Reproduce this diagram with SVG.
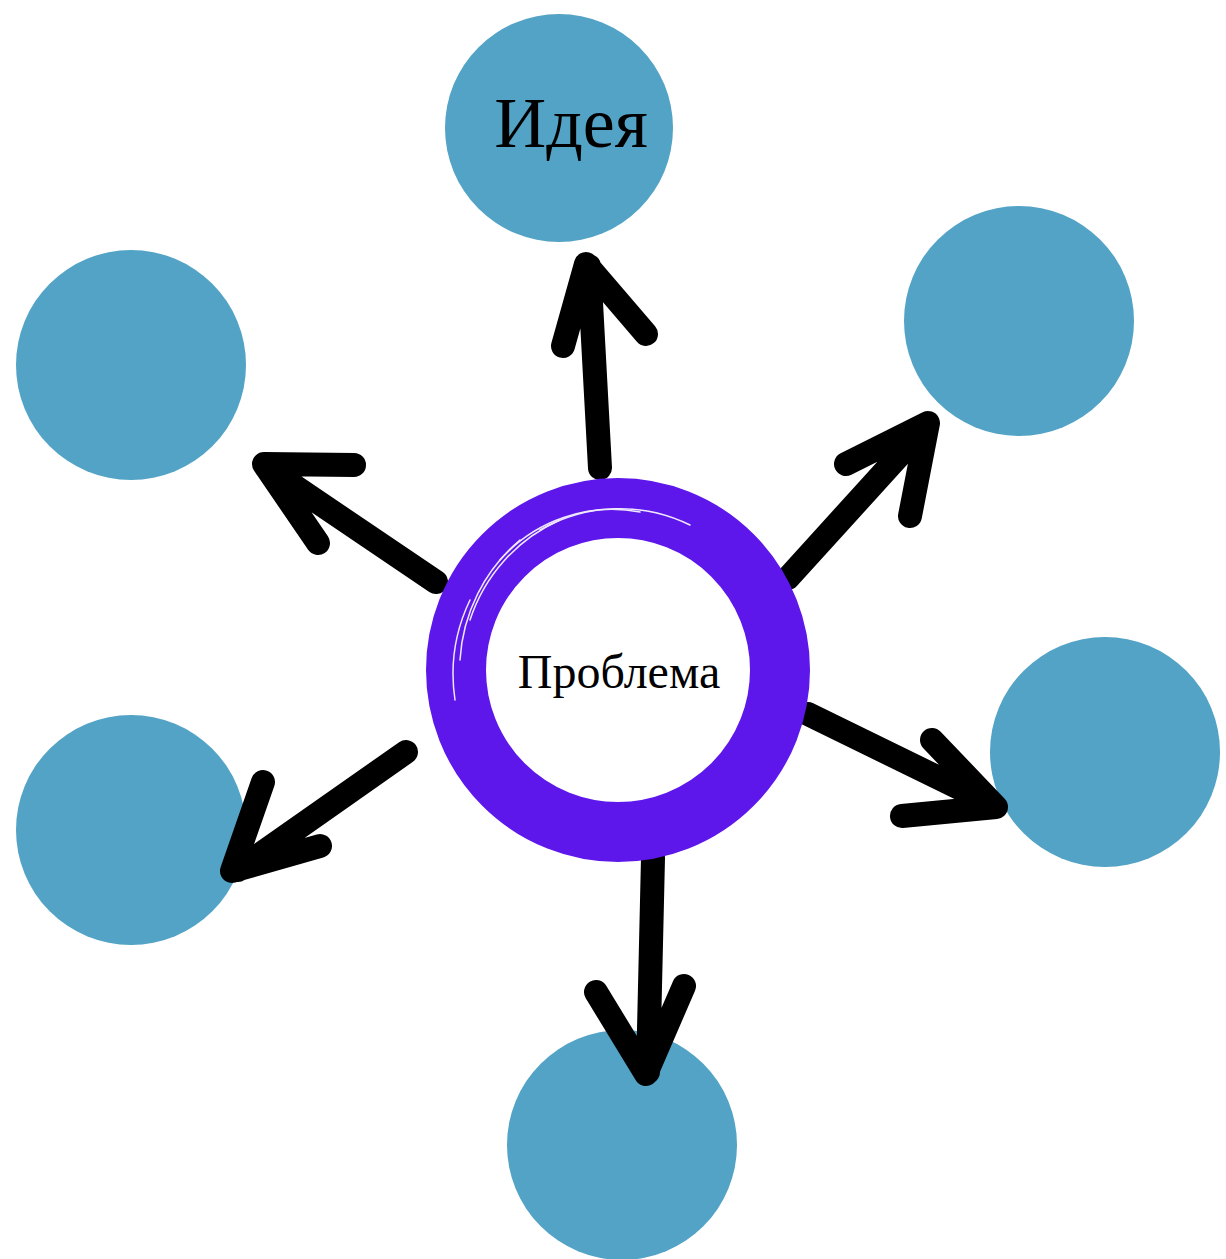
<svg xmlns="http://www.w3.org/2000/svg" width="1226" height="1259" viewBox="0 0 1226 1259">
<style>
.node{fill:#52a3c6}
.arrow{fill:none;stroke:#000;stroke-width:24;stroke-linecap:round;stroke-linejoin:round}
.lbl{font-family:"Liberation Serif","Times New Roman",serif;fill:#000;text-anchor:middle}
</style>
<rect width="1226" height="1259" fill="#fff"/>
<g id="node-idea"><circle class="node" cx="559" cy="128" r="114"/><text class="lbl" x="571" y="147" font-size="72">Идея</text></g>
<g id="node-topright"><circle class="node" cx="1019" cy="321" r="115"/></g>
<g id="node-left"><circle class="node" cx="131" cy="365" r="115"/></g>
<g id="node-right"><circle class="node" cx="1105" cy="752" r="115"/></g>
<g id="node-bottomleft"><circle class="node" cx="131" cy="830" r="115"/></g>
<g id="node-bottom"><circle class="node" cx="622" cy="1145" r="115"/></g>
<g id="connectors">
<path class="arrow" d="M600 468 L589 266 M563 346 L586 264 L646 334"/>
<path class="arrow" d="M788 578 L926 426 M846 464 L928 423 L910 516"/>
<path class="arrow" d="M436 582 L266 467 M354 465 L264 464 L318 543"/>
<path class="arrow" d="M406 752 L238 870 M263 782 L232 871 L320 846"/>
<path class="arrow" d="M808 714 L994 805 M932 740 L996 807 L902 816"/>
<path class="arrow" d="M653 858 L648 1072 M596 992 L646 1074 L684 986"/>
</g>
<g id="node-problem">
<circle cx="618" cy="670" r="162" fill="#fff" stroke="#5e17eb" stroke-width="60"/>
<g fill="none" stroke="#fff" stroke-width="1.5" stroke-linecap="round" opacity="0.9">
<path d="M470 620 A165 165 0 0 1 560 520"/>
<path d="M460 660 A170 170 0 0 1 520 540"/>
<path d="M500 560 A150 150 0 0 1 640 512"/>
<path d="M455 700 A172 172 0 0 1 470 600"/>
<path d="M540 530 A160 160 0 0 1 690 525"/>
</g>
<text class="lbl" x="619" y="688" font-size="48">Проблема</text>
</g>
</svg>
